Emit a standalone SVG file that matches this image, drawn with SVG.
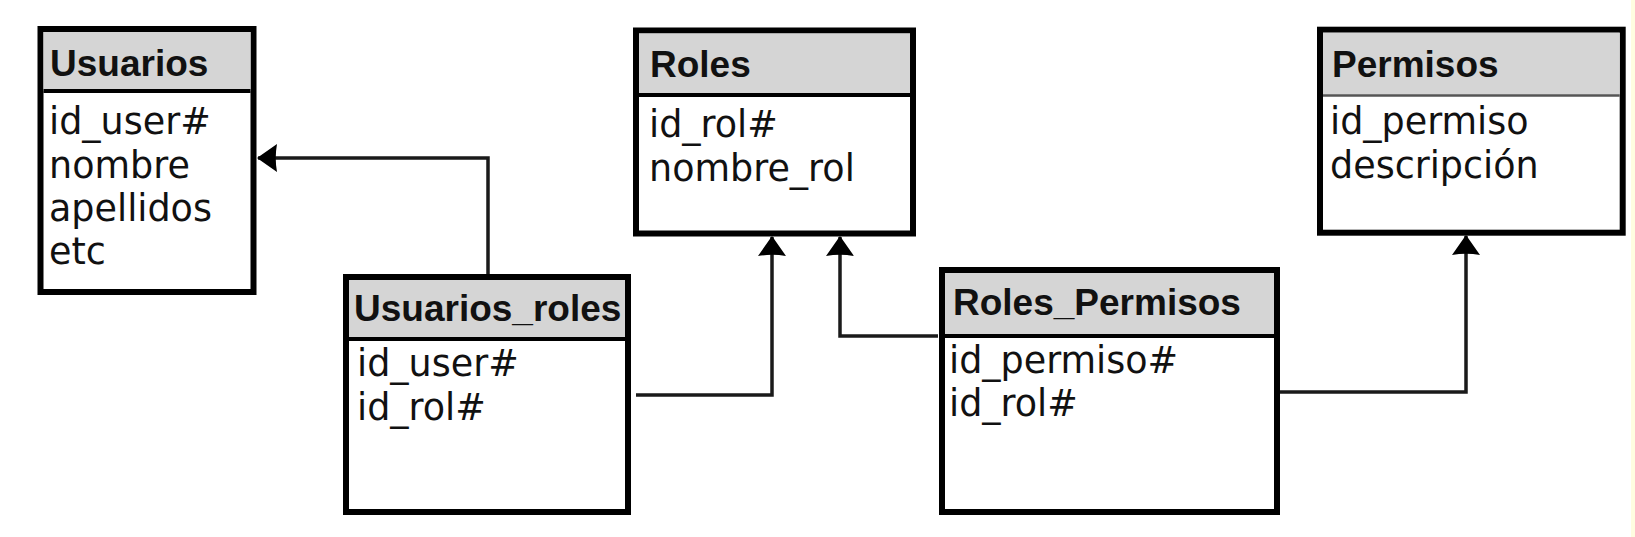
<svg xmlns="http://www.w3.org/2000/svg" width="1635" height="537" viewBox="0 0 1635 537">
  <style>
    .box { fill: #ffffff; stroke: #000000; stroke-width: 6; }
    .head { fill: #d5d5d5; stroke: none; }
    .div { stroke: #000000; stroke-width: 4; }
    .divg { stroke: #555555; stroke-width: 2.5; }
    .title { font-family: "Liberation Sans", Arial, sans-serif; font-weight: bold; font-size: 37px; fill: #111111; }
    .field { font-family: "DejaVu Sans", Verdana, sans-serif; font-size: 36.5px; fill: #111111; }
    .conn { fill: none; stroke: #1a1a1a; stroke-width: 3.5; marker-end: url(#arrow); }
  </style>
  <defs>
    <marker id="arrow" viewBox="0 0 20 30" refX="19" refY="15" markerWidth="20" markerHeight="30" markerUnits="userSpaceOnUse" orient="auto">
      <path d="M0,1 L20,15 L0,29 Q2.5,15 0,1 Z" fill="#000000"/>
    </marker>
  </defs>
  <rect x="0" y="0" width="1635" height="537" fill="#ffffff"/>
  <rect x="1631" y="0" width="4" height="537" fill="#fffde0"/>

  <g id="connectors">
    <path class="conn" d="M488,275 V158 H258"/>
    <path class="conn" d="M636,395 H772 V237"/>
    <path class="conn" d="M938,336 H840 V237"/>
    <path class="conn" d="M1280,392 H1466 V236"/>
  </g>

  <g id="usuarios">
    <rect class="box" x="40.5" y="29" width="213" height="263"/>
    <rect class="head" x="43.5" y="32" width="207" height="59"/>
    <line class="div" x1="43.5" y1="91" x2="250.5" y2="91"/>
    <text class="title" x="50" y="76">Usuarios</text>
    <text class="field" x="49" y="134">id_user#</text>
    <text class="field" x="49" y="178">nombre</text>
    <text class="field" x="49" y="221">apellidos</text>
    <text class="field" x="49" y="264">etc</text>
  </g>

  <g id="roles">
    <rect class="box" x="636" y="30.5" width="277" height="203"/>
    <rect class="head" x="639" y="33.5" width="271" height="61"/>
    <line class="div" x1="639" y1="95" x2="910" y2="95"/>
    <text class="title" x="650" y="77">Roles</text>
    <text class="field" x="649" y="137">id_rol#</text>
    <text class="field" x="649" y="181">nombre_rol</text>
  </g>

  <g id="permisos">
    <rect class="box" x="1320" y="29.7" width="302.7" height="203"/>
    <rect class="head" x="1323" y="32.7" width="296.7" height="62"/>
    <line class="divg" x1="1323" y1="95.5" x2="1619.7" y2="95.5"/>
    <text class="title" x="1332" y="77">Permisos</text>
    <text class="field" x="1330" y="134">id_permiso</text>
    <text class="field" x="1330" y="178">descripción</text>
  </g>

  <g id="usuarios_roles">
    <rect class="box" x="346" y="277" width="282" height="235"/>
    <rect class="head" x="349" y="280" width="276" height="59"/>
    <line class="div" x1="349" y1="339" x2="625" y2="339"/>
    <text class="title" x="354" y="321">Usuarios_roles</text>
    <text class="field" x="357" y="376">id_user#</text>
    <text class="field" x="357" y="420">id_rol#</text>
  </g>

  <g id="roles_permisos">
    <rect class="box" x="942" y="270" width="335" height="242"/>
    <rect class="head" x="945" y="273" width="329" height="63"/>
    <line class="div" x1="945" y1="336" x2="1274" y2="336"/>
    <text class="title" x="953" y="315">Roles_Permisos</text>
    <text class="field" x="949" y="373">id_permiso#</text>
    <text class="field" x="949" y="416">id_rol#</text>
  </g>
</svg>
